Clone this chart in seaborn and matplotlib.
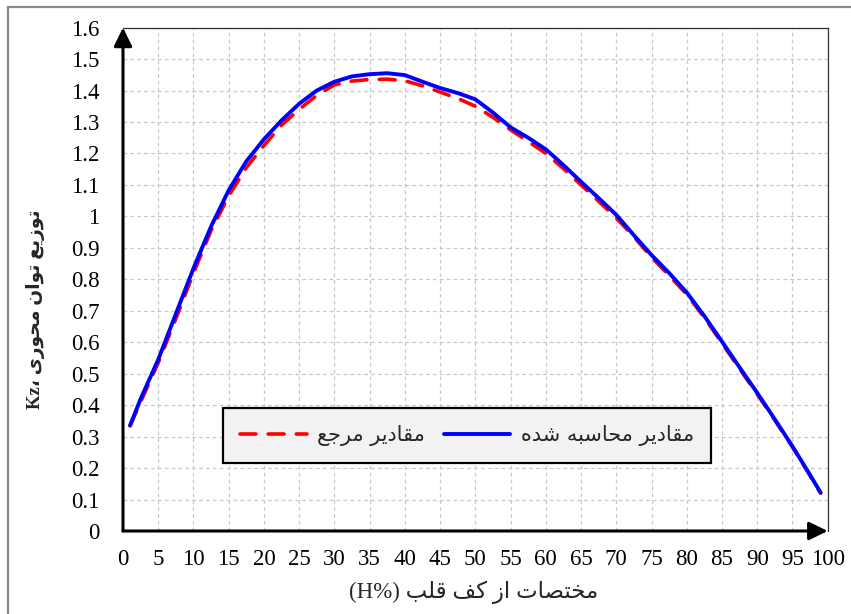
import matplotlib
matplotlib.use("Agg")
import matplotlib.pyplot as plt
from matplotlib.patches import Rectangle
import seaborn as sns
import pandas as pd

# ---------------- data ----------------
height_pct = [1, 2.5, 5, 7.5, 10, 12.5, 15, 17.5, 20, 22.5, 25, 27.5, 30, 32.5, 35, 37.5,
              40, 42.5, 45, 47.5, 50, 52.5, 55, 57.5, 60, 62.5, 65, 67.5, 70, 72.5, 75,
              77.5, 80, 82.5, 85, 87.5, 90, 92.5, 95, 97.5, 99]
reference_kz = [0.335, 0.41, 0.535, 0.675, 0.82, 0.955, 1.065, 1.155, 1.225, 1.29, 1.34,
                1.385, 1.418, 1.43, 1.435, 1.436, 1.431, 1.415, 1.395, 1.375, 1.35, 1.315,
                1.275, 1.238, 1.2, 1.152, 1.1, 1.048, 0.995, 0.935, 0.87, 0.812, 0.752,
                0.678, 0.597, 0.515, 0.435, 0.352, 0.267, 0.176, 0.12]
computed_kz = [0.335, 0.42, 0.545, 0.69, 0.835, 0.968, 1.083, 1.175, 1.245, 1.305, 1.358,
               1.40, 1.428, 1.445, 1.452, 1.455, 1.449, 1.428, 1.408, 1.392, 1.372, 1.33,
               1.283, 1.25, 1.213, 1.163, 1.11, 1.058, 1.005, 0.94, 0.877, 0.82, 0.758,
               0.683, 0.602, 0.52, 0.439, 0.355, 0.269, 0.178, 0.122]
x_ticks = list(range(0, 101, 5))
y_ticks = [i / 10 for i in range(0, 17)]
y_tick_labels = ["0", "0.1", "0.2", "0.3", "0.4", "0.5", "0.6", "0.7", "0.8", "0.9", "1",
                 "1.1", "1.2", "1.3", "1.4", "1.5", "1.6"]
label_reference = "مقادیر مرجع"
label_computed = "مقادیر محاسبه شده"
x_label_fa = "مختصات از کف قلب"
x_label_latin = "(H%)"
y_label_fa = "توزیع توان محوری"
y_label_latin = "Kz،"

# ------------- simple Persian shaping (visual order) -------------
FORMS = {  # isolated, final, initial, medial
    'ا': ('\uFE8D', '\uFE8E', None, None),
    'ب': ('\uFE8F', '\uFE90', '\uFE91', '\uFE92'),
    'ت': ('\uFE95', '\uFE96', '\uFE97', '\uFE98'),
    'ج': ('\uFE9D', '\uFE9E', '\uFE9F', '\uFEA0'),
    'ح': ('\uFEA1', '\uFEA2', '\uFEA3', '\uFEA4'),
    'خ': ('\uFEA5', '\uFEA6', '\uFEA7', '\uFEA8'),
    'د': ('\uFEA9', '\uFEAA', None, None),
    'ر': ('\uFEAD', '\uFEAE', None, None),
    'ز': ('\uFEAF', '\uFEB0', None, None),
    'س': ('\uFEB1', '\uFEB2', '\uFEB3', '\uFEB4'),
    'ش': ('\uFEB5', '\uFEB6', '\uFEB7', '\uFEB8'),
    'ص': ('\uFEB9', '\uFEBA', '\uFEBB', '\uFEBC'),
    'ع': ('\uFEC9', '\uFECA', '\uFECB', '\uFECC'),
    'ف': ('\uFED1', '\uFED2', '\uFED3', '\uFED4'),
    'ق': ('\uFED5', '\uFED6', '\uFED7', '\uFED8'),
    'ک': ('\uFED9', '\uFEDA', '\uFEDB', '\uFEDC'),
    'ل': ('\uFEDD', '\uFEDE', '\uFEDF', '\uFEE0'),
    'م': ('\uFEE1', '\uFEE2', '\uFEE3', '\uFEE4'),
    'ن': ('\uFEE5', '\uFEE6', '\uFEE7', '\uFEE8'),
    'ه': ('\uFEE9', '\uFEEA', '\uFEEB', '\uFEEC'),
    'و': ('\uFEED', '\uFEEE', None, None),
    'ی': ('\uFEEF', '\uFEF0', '\uFEF3', '\uFEF4'),
}


def shape(text):
    out = []
    n = len(text)
    for i, c in enumerate(text):
        if c not in FORMS:
            out.append(c)
            continue
        prev = text[i - 1] if i > 0 else None
        nxt = text[i + 1] if i + 1 < n else None
        jp = prev in FORMS and FORMS[prev][2] is not None
        jn = FORMS[c][2] is not None and nxt in FORMS
        iso, fin, ini, med = FORMS[c]
        out.append(med if (jp and jn) else fin if jp else ini if jn else iso)
    return ''.join(out)[::-1]


# ---------------- plot ----------------
sns.set_theme(style="white")
plt.rcParams['font.family'] = ['Liberation Serif', 'DejaVu Sans']

fig = plt.figure(figsize=(8.51, 6.14), dpi=100)
ax = fig.add_axes([123 / 851, (614 - 531) / 614, (827.7 - 123) / 851, (531 - 27.6) / 614])

df = pd.DataFrame({"h": height_pct, "ref": reference_kz, "calc": computed_kz})
sns.lineplot(data=df, x="h", y="ref", ax=ax, color="#ff0000", lw=2.6,
             dashes=False, label=shape(label_reference))
ax.lines[-1].set_dashes((4.4, 3.4))
sns.lineplot(data=df, x="h", y="calc", ax=ax, color="#0000ff", lw=2.8,
             label=shape(label_computed))
for ln in ax.lines:
    ln.set_solid_capstyle("round")
    ln.set_solid_joinstyle("round")
    ln.set_dash_capstyle("round")

ax.set_xlim(0, 100)
ax.set_ylim(0, 1.6)
ax.set_xticks(x_ticks)
ax.set_xticklabels([str(t) for t in x_ticks])
ax.set_yticks(y_ticks)
ax.set_yticklabels(y_tick_labels)
ax.tick_params(axis="both", length=0, labelsize=16.5, colors="black")
ax.tick_params(axis="x", pad=13)
ax.tick_params(axis="y", pad=17)

ax.grid(True, color="#c8c8c8", linestyle=(0, (3, 2.5)), linewidth=0.9)
ax.set_axisbelow(True)

for side in ("left", "bottom"):
    ax.spines[side].set_visible(False)
for side in ("top", "right"):
    ax.spines[side].set_visible(True)
    ax.spines[side].set_color("#303030")
    ax.spines[side].set_linewidth(0.9)

arrow_kw = dict(arrowstyle="-|>,head_length=0.45,head_width=0.22", lw=2.2,
                color="black", shrinkA=0, shrinkB=0, mutation_scale=25)
ax.annotate("", xy=(0, 1), xytext=(0, 0), xycoords="axes fraction",
            arrowprops=arrow_kw, annotation_clip=False)
ax.annotate("", xy=(1, 0), xytext=(0, 0), xycoords="axes fraction",
            arrowprops=arrow_kw, annotation_clip=False)

ax.set_xlabel(x_label_latin + " " + shape(x_label_fa), fontsize=16.5,
              family=['Liberation Serif', 'DejaVu Sans'])
ax.xaxis.set_label_coords(0.497, -0.098)
ax.set_ylabel(y_label_latin + " " + shape(y_label_fa), fontsize=13.5, fontweight="bold",
              family=['Liberation Serif', 'DejaVu Sans'])
ax.yaxis.set_label_coords(-0.111, 0.44)

leg = ax.legend(loc="center", bbox_to_anchor=(0.488, 0.19), ncol=2, frameon=True,
                fancybox=False, edgecolor="black", facecolor="#f2f2f2", framealpha=1,
                prop={"family": ['DejaVu Sans'], "size": 15}, handlelength=3.2,
                handletextpad=0.5, columnspacing=0.9, borderpad=0.8)
leg.get_frame().set_linewidth(1.6)

fig.patches.append(Rectangle((8 / 851, -0.05), 1.2, 1 - 7 / 614 + 0.05,
                             transform=fig.transFigure, fill=False,
                             edgecolor="#8a8a8a", linewidth=1.6))

fig.savefig("out.png", dpi=100)
